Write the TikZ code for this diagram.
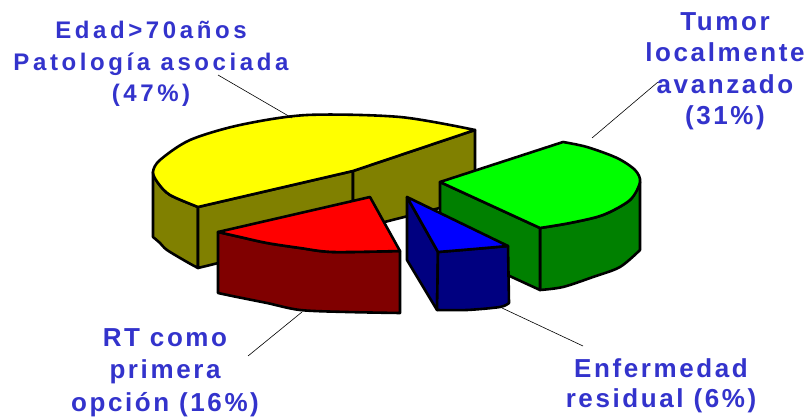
\documentclass[tikz,border=0pt]{standalone}
\usepackage{fontspec}
\newfontfamily\lblA{Liberation Sans}[LetterSpace=15]
\newfontfamily\lblB{Liberation Sans}[LetterSpace=10]
\definecolor{yTop}{HTML}{FFFF00}
\definecolor{ySide}{HTML}{808000}
\definecolor{rTop}{HTML}{FF0000}
\definecolor{rSide}{HTML}{800000}
\definecolor{bTop}{HTML}{0000FF}
\definecolor{bSide}{HTML}{000080}
\definecolor{gTop}{HTML}{00FF00}
\definecolor{gSide}{HTML}{008000}
\definecolor{lblBlue}{HTML}{3333CC}
\tikzset{
  edgeline/.style={draw=black, line width=2.6pt, line join=round},
  ytopface/.style={edgeline, fill=yTop},
  ysideface/.style={edgeline, fill=ySide},
  rtopface/.style={edgeline, fill=rTop},
  rsideface/.style={edgeline, fill=rSide},
  btopface/.style={edgeline, fill=bTop},
  bsideface/.style={edgeline, fill=bSide},
  gtopface/.style={edgeline, fill=gTop},
  gsideface/.style={edgeline, fill=gSide},
  leader/.style={draw=black, line width=0.6pt},
  lblbase/.style={text=lblBlue, align=center, inner sep=0pt, anchor=north},
  lblone/.style={lblbase, font=\lblA\bfseries\fontsize{24}{31.5}\selectfont},
  lbltwo/.style={lblbase, font=\lblB\bfseries\fontsize{26}{31.5}\selectfont},
  lblthree/.style={lblbase, font=\lblB\bfseries\fontsize{26}{32.5}\selectfont},
  lblfour/.style={lblbase, font=\lblB\bfseries\fontsize{26}{30}\selectfont}
}
\begin{document}
\begin{tikzpicture}[x=1pt, y=-1pt]
\useasboundingbox (0,0) rectangle (808,417);
\fill[white] (0,0) rectangle (808,417);

% Yellow slice (47%)
\path[ysideface] plot[smooth] coordinates {(198,207) (170,195) (158,183) (153,172)} -- (153,237)
  -- plot[smooth] coordinates {(153,237) (160,243) (167,250) (187,262) (198,268)} -- cycle;
\path[ysideface] (198,207) -- (353,171) -- (353,230) -- (198,268) -- cycle;
\path[ysideface] (353,171) -- (475,130) -- (475,199) -- (353,230) -- cycle;
\path[ytopface] (198,207) -- (353,171) -- (475,130)
  -- plot[smooth] coordinates {(475,130) (400,117) (307,115) (240,125) (190,140) (160,160) (153,172) (158,183) (170,195) (198,207)} -- cycle;

% Green slice (31%)
\path[gsideface] plot[smooth] coordinates {(540,228) (570,223) (603,215) (630,200) (640,182)} -- (640,250)
  -- plot[smooth] coordinates {(640,250) (620,267) (593,277) (563,287) (540,290)} -- cycle;
\path[gsideface] (440,182) -- (540,228) -- (540,290) -- (440,244) -- cycle;
\path[gtopface] (440,182) -- (563,142)
  -- plot[smooth] coordinates {(563,142) (587,147) (617,158) (635,170) (640,182) (630,200) (603,215) (570,223) (540,228)} -- cycle;

% Red slice (16%)
\path[rsideface] plot[smooth] coordinates {(218,232) (240,237) (267,243) (300,248) (333,252) (400,251)} -- (400,313)
  -- plot[smooth] coordinates {(400,313) (347,312) (300,310) (267,303) (237,297) (218,293)} -- cycle;
\path[rtopface] (370,197) -- (400,251)
  -- plot[smooth] coordinates {(400,251) (333,252) (300,248) (267,243) (240,237) (218,232)} -- cycle;

% Blue slice (6%)
\path[bsideface] (407,197) -- (438,252) -- (437,310) -- (407,260) -- cycle;
\path[bsideface] plot[smooth] coordinates {(438,252) (474,249) (508,246)} -- (509,303)
  -- plot[smooth] coordinates {(509,303) (500,307) (467,310) (437,310)} -- cycle;
\path[btopface] (407,197) -- (508,246)
  -- plot[smooth] coordinates {(508,246) (474,249) (438,252)} -- cycle;

% Labels
\node[lblone] (lab47) at (151,21) {Edad>70años\\Patología asociada\\(47\%)};
\node[lbltwo] (lab31) at (725,12) {Tumor\\localmente\\avanzado\\(31\%)};
\node[lblthree] (lab16) at (165,328) {RT como\\primera\\opción (16\%)};
\node[lblfour] (lab6) at (661,358) {Enfermedad\\residual (6\%)};

% Leader lines
\coordinate (y1) at (218,75);  \coordinate (y2) at (292,118);
\coordinate (g1) at (658,82);  \coordinate (g2) at (592,138);
\coordinate (r1) at (248,356); \coordinate (r2) at (302,312);
\coordinate (b1) at (583,346); \coordinate (b2) at (502,308);
\draw[leader] (y1) -- (y2);
\draw[leader] (g1) -- (g2);
\draw[leader] (r1) -- (r2);
\draw[leader] (b1) -- (b2);
\end{tikzpicture}
\end{document}
